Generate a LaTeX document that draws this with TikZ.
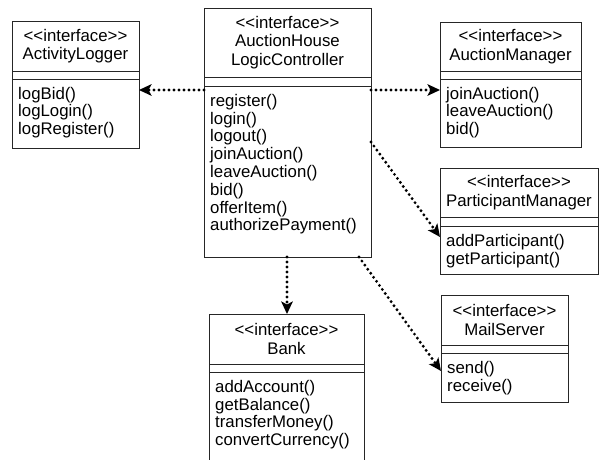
\documentclass[tikz,border=0pt]{standalone}
\usepackage{fontspec}
\setmainfont{Liberation Sans}
\usetikzlibrary{arrows.meta}
\tikzset{
  boxline/.style={draw=black!85, line width=0.9pt},
  hdrtext/.style={align=center, inner sep=0pt, font=\fontsize{16.8}{18.5}\selectfont},
  mtext/.style={align=left, inner sep=0pt, anchor=north west, font=\fontsize{16.8}{17.8}\selectfont},
  dep/.style={line width=3.2pt, dash pattern=on 0pt off 5pt, line cap=round,
    -{Stealth[length=12.5pt,width=11.5pt,inset=3pt]}},
}
\newcommand\stereo[1]{<\kern0pt<#1>\kern0pt>}
\newcommand\umlclass[9]{%
  \node[boxline, anchor=north west, outer sep=0pt, inner sep=0pt,
        minimum width={(#4-#2)*1pt}, minimum height={(#5-#3)*1pt}] (#1) at (#2,#3) {};
  \draw[boxline] (#2,#6) -- (#4,#6) (#2,#7) -- (#4,#7);
  \node[hdrtext] (#1-h) at ({(#2+#4)/2},{(#3+#6)/2}) {#8};
  \node[mtext] (#1-m) at (#2+6,#7+7) {\rule{0pt}{13pt}#9};
}
\begin{document}
\begin{tikzpicture}[x=1pt,y=-1pt]
\clip (0,0) rectangle (600,460);
\umlclass{al}{12}{21}{139}{148}{71}{79}{\stereo{interface}\\ActivityLogger}{logBid()\\logLogin()\\logRegister()}
\umlclass{alc}{204}{8}{371}{257}{77}{86}{\stereo{interface}\\AuctionHouse\\LogicController}{register()\\login()\\logout()\\joinAuction()\\leaveAuction()\\bid()\\offerItem()\\authorizePayment()}
\umlclass{am}{440}{22}{581}{147}{71}{79}{\stereo{interface}\\AuctionManager}{joinAuction()\\leaveAuction()\\bid()}
\umlclass{pm}{440}{168}{598}{274}{217}{226}{\stereo{interface}\\ParticipantManager}{addParticipant()\\getParticipant()}
\umlclass{ms}{441}{295}{568}{402}{345}{353}{\stereo{interface}\\MailServer}{send()\\receive()}
\umlclass{bank}{209}{314}{364}{470}{364}{372}{\stereo{interface}\\Bank}{addAccount()\\getBalance()\\transferMoney()\\convertCurrency()}
\draw[dep] (alc.west |- 0,90) -- (al.east |- 0,90);
\draw[dep] (alc.east |- 0,90) -- (am.west |- 0,90);
\draw[dep] (alc.east |- 0,142) -- (pm.west |- 0,237);
\draw[dep] (alc.south -| 287,0) -- (bank.north -| 287,0);
\draw[dep] (alc.south -| 359,0) -- (ms.west |- 0,371);
\end{tikzpicture}
\end{document}
